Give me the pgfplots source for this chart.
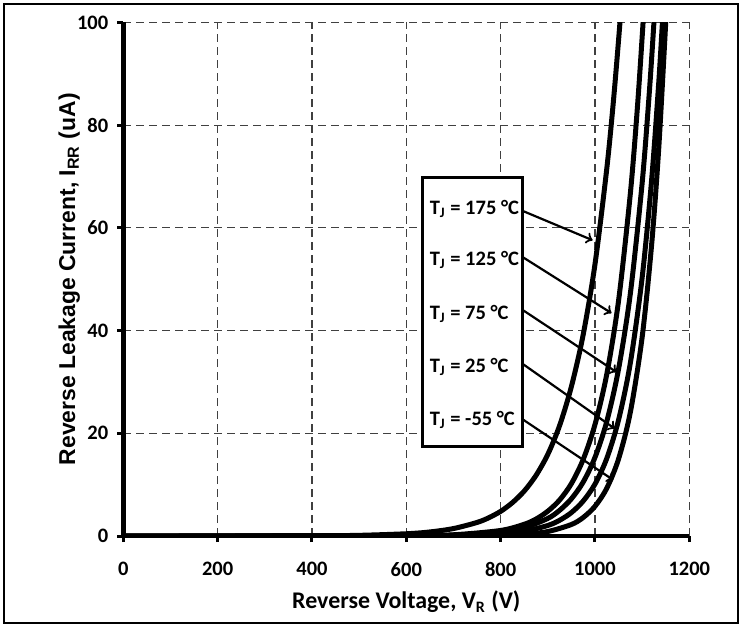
\documentclass[border=0pt]{standalone}
\usepackage{fontspec}
\setmainfont{Carlito}
\newfontfamily\arialfont{Liberation Sans}
\usepackage{pgfplots}
\pgfplotsset{compat=1.18}

% reverse leakage current vs reverse voltage
\pgfplotstableread{
V I
0 0
200 0.004
400 0.04
500 0.13
600 0.44
650 0.79
700 1.45
750 2.64
775 3.56
800 4.8
825 6.5
850 8.75
875 11.8
900 15.9
925 21.5
950 29.1
975 39.2
1000 52.9
1025 71.5
1040 85.6
1053 100
1060 108.8
}\tjone
\pgfplotstableread{
V I
0 0
400 0.004
600 0.054
700 0.24
800 1.08
850 2.28
875 3.3
900 4.83
925 7.0
950 10.2
975 14.9
1000 21.7
1025 31.5
1050 45.8
1075 66.7
1090 83.5
1102 100
1108 109.4
}\tjtwo
\pgfplotstableread{
V I
0 0
400 0.003
600 0.04
700 0.17
800 0.76
850 1.62
900 3.42
925 5.0
950 7.24
975 10.5
1000 15.3
1025 22.3
1050 32.5
1075 47.2
1100 68.7
1115 86.1
1125 100
1131 109.4
}\tjthree
\pgfplotstableread{
V I
0 0
500 0.004
700 0.08
800 0.41
850 0.92
900 2.05
925 3.06
950 4.56
975 6.8
1000 10.1
1025 15.1
1050 22.6
1075 33.7
1100 50.3
1120 69.2
1135 88
1143 100
1148 108.3
}\tjfour
\pgfplotstableread{
V I
0 0
600 0.003
700 0.02
800 0.13
850 0.33
900 0.87
950 2.24
975 3.6
1000 5.78
1025 9.3
1050 15.0
1075 24.1
1100 38.7
1120 56.6
1135 75.2
1150 100
1154 107.9
}\tjfive

\begin{document}
\begin{tikzpicture}
\begin{axis}[
  name=ax,
  scale only axis,
  width=283bp, height=256.75bp,
  xmin=0, xmax=1200, ymin=0, ymax=100,
  xtick={0,200,...,1200}, ytick={0,20,...,100},
  axis lines*=left,
  axis line style={line width=2.2bp},
  tick align=outside,
  major tick length=3bp,
  tick style={line width=1.5bp, black},
  grid=major,
  major grid style={black!75, line width=0.6bp, dash pattern=on 4bp off 2.5bp},
  ticklabel style={font=\fontsize{10.3}{12}\selectfont\bfseries},
  xticklabel style={yshift=-6.5bp},
  yticklabel style={xshift=-1bp},
  /pgf/number format/assume math mode=true,
  /pgf/number format/1000 sep={},
  xlabel={Reverse Voltage, V\textsubscript{R} (V)},
  ylabel={\arialfont Reverse Leakage Current, I\textsubscript{RR} (uA)},
  xlabel style={font=\fontsize{12}{14}\selectfont\bfseries, at={(axis description cs:0.5,-0.128)}, anchor=center},
  ylabel style={font=\fontsize{11.5}{14}\selectfont\bfseries, at={(axis description cs:-0.0954,0.5)}, anchor=center},
]
\addplot[black, line width=2.5bp, smooth] table[x=V, y=I] {\tjone};
\addplot[black, line width=2.5bp, smooth] table[x=V, y=I] {\tjtwo};
\addplot[black, line width=2.5bp, smooth] table[x=V, y=I] {\tjthree};
\addplot[black, line width=2.5bp, smooth] table[x=V, y=I] {\tjfour};
\addplot[black, line width=2.5bp, smooth] table[x=V, y=I] {\tjfive};

\draw[line width=1.5bp, fill=white] (axis cs:635,69.9) rectangle (axis cs:847,17.4);
\begin{scope}[font=\fontsize{10.3}{12}\selectfont\bfseries]
\node[anchor=west, inner sep=0] at (axis cs:649,63.7) {T\textsubscript{J} = 175 °C};
\node[anchor=west, inner sep=0] at (axis cs:649,53.7) {T\textsubscript{J} = 125 °C};
\node[anchor=west, inner sep=0] at (axis cs:649,43.2) {T\textsubscript{J} = 75 °C};
\node[anchor=west, inner sep=0] at (axis cs:649,32.9) {T\textsubscript{J} = 25 °C};
\node[anchor=west, inner sep=0] at (axis cs:649,22.6) {T\textsubscript{J} = -55 °C};
\end{scope}
\begin{scope}[line width=1.1bp, ->]
\draw (axis cs:847,63.3) -- (axis cs:995,57.6);
\draw (axis cs:847,54.3) -- (axis cs:1035,43.4);
\draw (axis cs:847,44.0) -- (axis cs:1046,31.9);
\draw (axis cs:847,33.5) -- (axis cs:1042,20.9);
\draw (axis cs:847,22.7) -- (axis cs:1039,10.9);
\end{scope}
\end{axis}
\draw[line width=1bp] ([xshift=-59.65bp,yshift=-43.5bp]ax.south west) rectangle ([xshift=307.35bp,yshift=266bp]ax.south west);
\useasboundingbox ([xshift=-61.65bp,yshift=-46bp]ax.south west) rectangle ([xshift=311.35bp,yshift=268bp]ax.south west);
\end{tikzpicture}
\end{document}
